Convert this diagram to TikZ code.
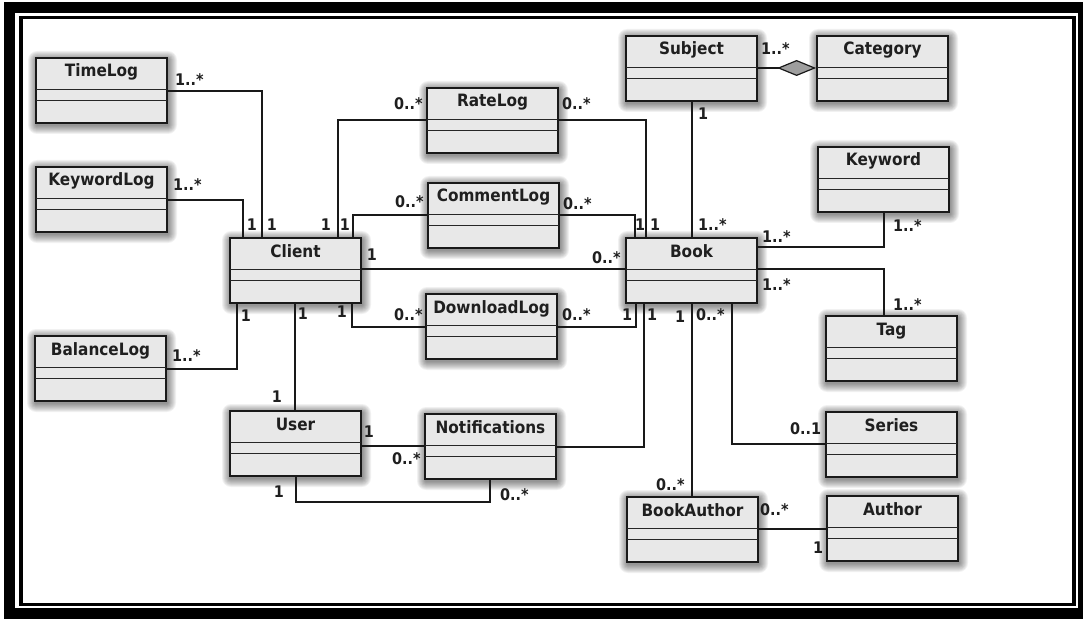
\documentclass[tikz,border=0pt]{standalone}
\usepackage{fontspec}
\usetikzlibrary{arrows.meta}
\newfontfamily\umlfont[FakeStretch=0.9]{DejaVu Sans}

% class box: #1 node name, #2 left, #3 top, #4 class name
\newcommand{\umlclass}[4]{%
  \foreach \g in {1,...,9}{%
    \fill[black,opacity=0.055,rounded corners=\g pt]
      (#2-\g+1,#3-\g+2) rectangle (#2+131+\g+1,#3+65+\g+2);
  }
  \node[classbox] (#1) at (#2+65.5,#3+32.5) {};
  \draw[divider] (#2,#3+31.5) -- (#2+131,#3+31.5)
                 (#2,#3+42.5) -- (#2+131,#3+42.5);
  \node[classname] (#1-title) at (#2+65.5,#3+19) {#4};
}

\tikzset{
  classbox/.style={rectangle, draw=black!90, line width=1.8pt, fill=black!9,
    minimum width=131pt, minimum height=65pt, inner sep=0pt},
  divider/.style={draw=black!85, line width=1.4pt},
  classname/.style={font=\umlfont\bfseries\fontsize{17}{17}\selectfont,
    text=black!88, anchor=base, inner sep=0pt},
  conn/.style={draw=black!90, line width=1.5pt},
  mult/.style={font=\umlfont\bfseries\fontsize{16}{16}\selectfont,
    text=black!88, anchor=base west, inner sep=0pt},
  multc/.style={mult, anchor=base},
}

\begin{document}
\begin{tikzpicture}[x=1pt,y=-1pt]
  \useasboundingbox (0,0) rectangle (1083,620);
  \clip (0,0) rectangle (1083,620);
  \fill[white] (0,0) rectangle (1083,620);

  % double frame
  \draw[line width=11pt] (9.5,7.5) rectangle (1083.5,613.5);
  \draw[line width=3.5pt] (21,17.5) rectangle (1074,604.5);

  % classes
  \umlclass{TimeLog}{36}{58}{TimeLog}
  \umlclass{KeywordLog}{36}{167}{KeywordLog}
  \umlclass{BalanceLog}{35}{336}{BalanceLog}
  \umlclass{Client}{230}{238}{Client}
  \umlclass{User}{230}{411}{User}
  \umlclass{Notifications}{425}{414}{Notifications}
  \umlclass{RateLog}{427}{88}{RateLog}
  \umlclass{CommentLog}{428}{183}{CommentLog}
  \umlclass{DownloadLog}{426}{294}{DownloadLog}
  \umlclass{Subject}{626}{36}{Subject}
  \umlclass{Category}{817}{36}{Category}
  \umlclass{Keyword}{818}{147}{Keyword}
  \umlclass{Book}{626}{238}{Book}
  \umlclass{Tag}{826}{316}{Tag}
  \umlclass{Series}{826}{412}{Series}
  \umlclass{Author}{827}{496}{Author}
  \umlclass{BookAuthor}{627}{497}{BookAuthor}

  % associations around Client
  \draw[conn] (TimeLog.east |- 0,91) -| (Client.north -| 262,0);
  \draw[conn] (KeywordLog.east |- 0,200) -| (Client.north -| 243,0);
  \draw[conn] (BalanceLog.east |- 0,369) -| (Client.south -| 237,0);
  \draw[conn] (Client.south -| 295,0) -- (User.north -| 295,0);
  \draw[conn] (Client.east |- 0,269) -- (Book.west |- 0,269);

  % log classes between Client and Book
  \draw[conn] (Client.north -| 338,0) |- (RateLog.west |- 0,120);
  \draw[conn] (RateLog.east |- 0,120) -| (Book.north -| 646,0);
  \draw[conn] (Client.north -| 353,0) |- (CommentLog.west |- 0,215);
  \draw[conn] (CommentLog.east |- 0,215) -| (Book.north -| 635,0);
  \draw[conn] (Client.south -| 352,0) |- (DownloadLog.west |- 0,327);
  \draw[conn] (DownloadLog.east |- 0,327) -| (Book.south -| 636,0);

  % associations around Book
  \draw[conn] (Subject.south -| 692,0) -- (Book.north -| 692,0);
  \draw[conn] (Book.south -| 644,0) |- (Notifications.east |- 0,447);
  \draw[conn] (Book.south -| 692,0) -- (BookAuthor.north -| 692,0);
  \draw[conn] (Book.south -| 732,0) |- (Series.west |- 0,444);
  \draw[conn] (Book.east |- 0,247) -| (Keyword.south -| 884,0);
  \draw[conn] (Book.east |- 0,269) -| (Tag.north -| 884,0);
  \draw[conn,-{Diamond[length=39pt,width=16pt,line width=1.2pt,fill=black!38]}]
    (Subject.east |- 0,68) -- (Category.west |- 0,68);
  \draw[conn] (BookAuthor.east |- 0,529) -- (Author.west |- 0,529);

  % User and Notifications
  \draw[conn] (User.east |- 0,446) -- (Notifications.west |- 0,446);
  \coordinate (loopL) at (296,502);
  \coordinate (loopR) at (490,502);
  \draw[conn] (User.south -| loopL) -- (loopL) -- (loopR) -- (Notifications.south -| loopR);

  % multiplicities
  \node[mult] at (175,86) {1..*};
  \node[mult] at (173,191) {1..*};
  \node[mult] at (172,361) {1..*};
  \node[multc] at (252,230) {1};
  \node[multc] at (272,230) {1};
  \node[multc] at (326,230) {1};
  \node[multc] at (345,230) {1};
  \node[multc] at (372,260) {1};
  \node[multc] at (246,321) {1};
  \node[multc] at (303,319) {1};
  \node[multc] at (342,317) {1};
  \node[multc] at (277,402) {1};

  \node[mult] at (394,110) {0..*};
  \node[mult] at (562,110) {0..*};
  \node[mult] at (395,208) {0..*};
  \node[mult] at (563,210) {0..*};
  \node[mult] at (592,263) {0..*};
  \node[mult] at (394,320) {0..*};
  \node[mult] at (562,320) {0..*};

  \node[multc] at (703,120) {1};
  \node[multc] at (640,231) {1};
  \node[multc] at (655,231) {1};
  \node[mult] at (698,231) {1..*};
  \node[mult] at (761,55) {1..*};
  \node[mult] at (762,243) {1..*};
  \node[mult] at (893,232) {1..*};
  \node[mult] at (762,290) {1..*};
  \node[mult] at (893,310) {1..*};

  \node[multc] at (627,320) {1};
  \node[multc] at (652,320) {1};
  \node[multc] at (680,322) {1};
  \node[mult] at (696,320) {0..*};
  \node[mult] at (790,434) {0..1};
  \node[mult] at (656,490) {0..*};
  \node[mult] at (760,515) {0..*};
  \node[multc] at (818,553) {1};

  \node[multc] at (369,437) {1};
  \node[mult] at (392,464) {0..*};
  \node[multc] at (279,497) {1};
  \node[mult] at (500,500) {0..*};
\end{tikzpicture}
\end{document}
